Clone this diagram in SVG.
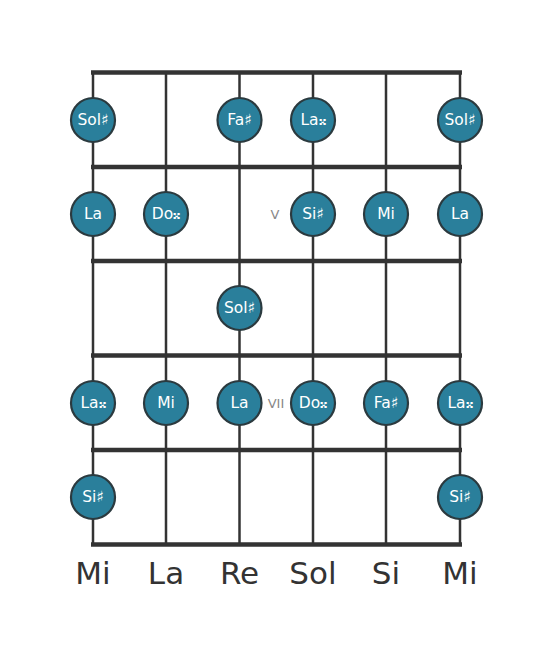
<svg xmlns="http://www.w3.org/2000/svg" width="553" height="656" viewBox="0 0 553 656">
<style>
.str{stroke:#333;stroke-width:2.5;fill:none}
.fret{stroke:#333;stroke-width:4.5;fill:none}
.note circle{fill:#2a7f9b;stroke:#2b3a3f;stroke-width:2.2}
.note text{fill:#fff;font-family:"DejaVu Sans",sans-serif;font-size:15.5px;text-anchor:middle;dominant-baseline:central}
.mk{fill:#888;font-family:"DejaVu Sans",sans-serif;font-size:13px;text-anchor:middle;dominant-baseline:central}
.lbl{fill:#333;font-family:"DejaVu Sans",sans-serif;font-size:31px;text-anchor:middle}
</style>
<rect width="553" height="656" fill="#fff"/>
<g id="board">
<line class="str" x1="93" y1="72" x2="93" y2="545"/>
<line class="str" x1="166" y1="72" x2="166" y2="545"/>
<line class="str" x1="239.5" y1="72" x2="239.5" y2="545"/>
<line class="str" x1="313" y1="72" x2="313" y2="545"/>
<line class="str" x1="386" y1="72" x2="386" y2="545"/>
<line class="str" x1="460" y1="72" x2="460" y2="545"/>
<line class="fret" x1="91" y1="72.5" x2="462" y2="72.5"/>
<line class="fret" x1="91" y1="167" x2="462" y2="167"/>
<line class="fret" x1="91" y1="261" x2="462" y2="261"/>
<line class="fret" x1="91" y1="355.5" x2="462" y2="355.5"/>
<line class="fret" x1="91" y1="450" x2="462" y2="450"/>
<line class="fret" x1="91" y1="544.5" x2="462" y2="544.5"/>
<text class="mk" x="275" y="214">V</text>
<text class="mk" x="276" y="403">VII</text>
</g>
<g id="n1" class="note"><circle cx="93" cy="120" r="22"/><text x="93" y="120">Sol♯</text></g>
<g id="n2" class="note"><circle cx="239.5" cy="120" r="22"/><text x="239.5" y="120">Fa♯</text></g>
<g id="n3" class="note"><circle cx="313" cy="120" r="22"/><text x="313" y="120">La𝄪</text></g>
<g id="n4" class="note"><circle cx="460" cy="120" r="22"/><text x="460" y="120">Sol♯</text></g>
<g id="n5" class="note"><circle cx="93" cy="214" r="22"/><text x="93" y="214">La</text></g>
<g id="n6" class="note"><circle cx="166" cy="214" r="22"/><text x="166" y="214">Do𝄪</text></g>
<g id="n7" class="note"><circle cx="313" cy="214" r="22"/><text x="313" y="214">Si♯</text></g>
<g id="n8" class="note"><circle cx="386" cy="214" r="22"/><text x="386" y="214">Mi</text></g>
<g id="n9" class="note"><circle cx="460" cy="214" r="22"/><text x="460" y="214">La</text></g>
<g id="n10" class="note"><circle cx="239.5" cy="308" r="22"/><text x="239.5" y="308">Sol♯</text></g>
<g id="n11" class="note"><circle cx="93" cy="403" r="22"/><text x="93" y="403">La𝄪</text></g>
<g id="n12" class="note"><circle cx="166" cy="403" r="22"/><text x="166" y="403">Mi</text></g>
<g id="n13" class="note"><circle cx="239.5" cy="403" r="22"/><text x="239.5" y="403">La</text></g>
<g id="n14" class="note"><circle cx="313" cy="403" r="22"/><text x="313" y="403">Do𝄪</text></g>
<g id="n15" class="note"><circle cx="386" cy="403" r="22"/><text x="386" y="403">Fa♯</text></g>
<g id="n16" class="note"><circle cx="460" cy="403" r="22"/><text x="460" y="403">La𝄪</text></g>
<g id="n17" class="note"><circle cx="93" cy="497" r="22"/><text x="93" y="497">Si♯</text></g>
<g id="n18" class="note"><circle cx="460" cy="497" r="22"/><text x="460" y="497">Si♯</text></g>
<g id="labels">
<text class="lbl" x="93" y="584">Mi</text>
<text class="lbl" x="166" y="584">La</text>
<text class="lbl" x="239.5" y="584">Re</text>
<text class="lbl" x="313" y="584">Sol</text>
<text class="lbl" x="386" y="584">Si</text>
<text class="lbl" x="460" y="584">Mi</text>
</g>
</svg>
